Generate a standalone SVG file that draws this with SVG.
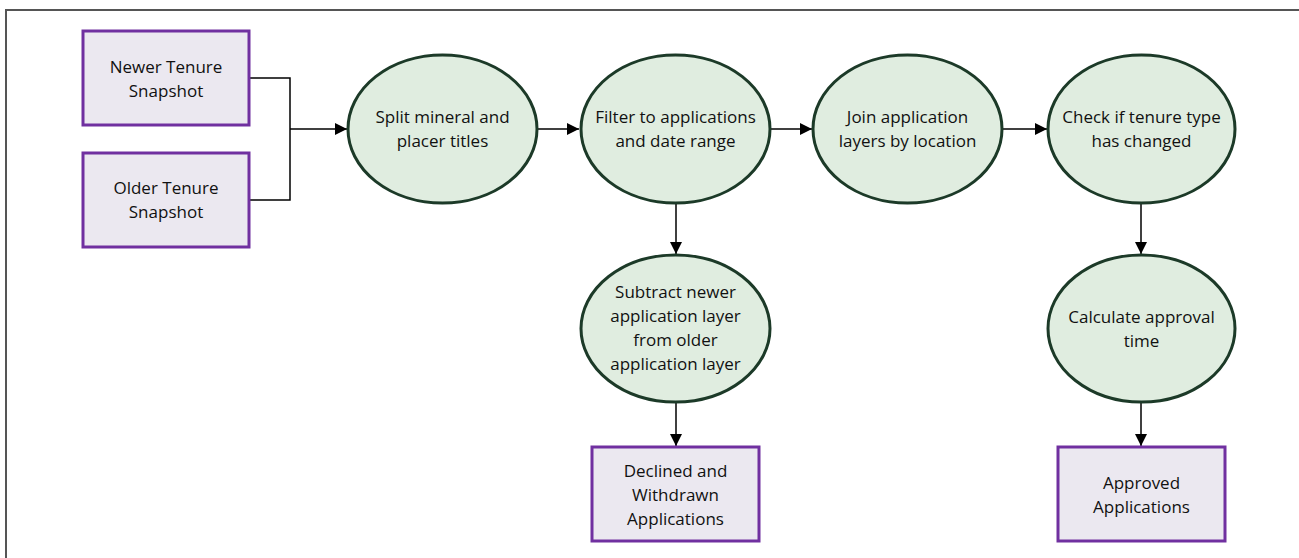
<svg xmlns="http://www.w3.org/2000/svg" width="1299" height="558" viewBox="0 0 1299 558">
<defs>
<style>
.box{fill:#ebe8f0;stroke:#7030a0;stroke-width:3}
.ell{fill:#e0ede0;stroke:#1c3a28;stroke-width:3}
.t{font-family:"Open Sans","Liberation Sans",sans-serif;font-size:17px;fill:#111;text-anchor:middle}
.c{fill:none;stroke:#000;stroke-width:1.5}
</style>
<marker id="ah" viewBox="0 0 12 12" refX="12" refY="6" markerWidth="12" markerHeight="12" markerUnits="userSpaceOnUse" orient="auto">
<path d="M0,0 L12,6 L0,12 Z" fill="#000"/>
</marker>
</defs>
<rect width="1299" height="558" fill="#fff"/>
<path d="M6,560 V10 H1300" fill="none" stroke="#555" stroke-width="2"/>
<g id="connectors">
<path class="c" d="M249,78 H290 V200 H249"/>
<path class="c" d="M290,129 H347" marker-end="url(#ah)"/>
<path class="c" d="M537,129 H579" marker-end="url(#ah)"/>
<path class="c" d="M770,129 H812" marker-end="url(#ah)"/>
<path class="c" d="M1003,129 H1047" marker-end="url(#ah)"/>
<path class="c" d="M676,203 V254" marker-end="url(#ah)"/>
<path class="c" d="M1141,203 V254" marker-end="url(#ah)"/>
<path class="c" d="M676,402 V446" marker-end="url(#ah)"/>
<path class="c" d="M1141,402 V446" marker-end="url(#ah)"/>
</g>
<g id="newer">
<rect class="box" x="83" y="31" width="166" height="94"/>
<text class="t" x="166" y="73">Newer Tenure</text>
<text class="t" x="166" y="97">Snapshot</text>
</g>
<g id="older">
<rect class="box" x="83" y="153" width="166" height="94"/>
<text class="t" x="166" y="194">Older Tenure</text>
<text class="t" x="166" y="218">Snapshot</text>
</g>
<g id="split">
<ellipse class="ell" cx="442.5" cy="129" rx="94.5" ry="74"/>
<text class="t" x="442.5" y="123">Split mineral and</text>
<text class="t" x="442.5" y="147">placer titles</text>
</g>
<g id="filter">
<ellipse class="ell" cx="675.5" cy="129" rx="94.5" ry="74"/>
<text class="t" x="675.5" y="123">Filter to applications</text>
<text class="t" x="675.5" y="147">and date range</text>
</g>
<g id="join">
<ellipse class="ell" cx="907.5" cy="129" rx="94.5" ry="74"/>
<text class="t" x="907.5" y="123">Join application</text>
<text class="t" x="907.5" y="147">layers by location</text>
</g>
<g id="check">
<ellipse class="ell" cx="1141.5" cy="129" rx="93.5" ry="74"/>
<text class="t" x="1141.5" y="123">Check if tenure type</text>
<text class="t" x="1141.5" y="147">has changed</text>
</g>
<g id="subtract">
<ellipse class="ell" cx="675.5" cy="328.5" rx="94.5" ry="73.5"/>
<text class="t" x="675.5" y="298">Subtract newer</text>
<text class="t" x="675.5" y="322">application layer</text>
<text class="t" x="675.5" y="346">from older</text>
<text class="t" x="675.5" y="370">application layer</text>
</g>
<g id="calculate">
<ellipse class="ell" cx="1141.5" cy="328.5" rx="93.5" ry="73.5"/>
<text class="t" x="1141.5" y="323">Calculate approval</text>
<text class="t" x="1141.5" y="347">time</text>
</g>
<g id="declined">
<rect class="box" x="592" y="447" width="167" height="94"/>
<text class="t" x="675.5" y="477">Declined and</text>
<text class="t" x="675.5" y="501">Withdrawn</text>
<text class="t" x="675.5" y="525">Applications</text>
</g>
<g id="approved">
<rect class="box" x="1058" y="447" width="167" height="94"/>
<text class="t" x="1141.5" y="489">Approved</text>
<text class="t" x="1141.5" y="513">Applications</text>
</g>
</svg>
